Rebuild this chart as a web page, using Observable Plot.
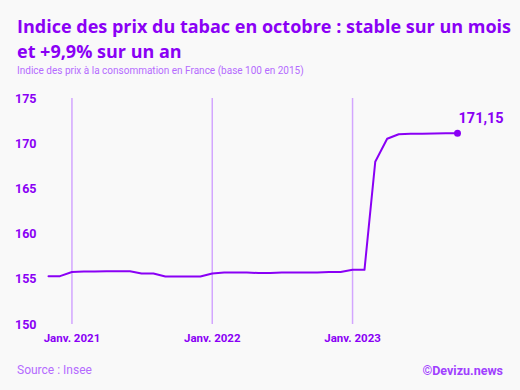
<!DOCTYPE html>
<html>
<head>
<meta charset="utf-8">
<script src="https://cdn.jsdelivr.net/npm/d3@7"></script>
<script src="https://cdn.jsdelivr.net/npm/@observablehq/plot@0.6"></script>
<style>
  html, body { margin: 0; padding: 0; }
  body { width: 520px; height: 390px; background: #f9f9f9; position: relative; overflow: hidden; font-family: Roboto, "Noto Sans", sans-serif; }
  #title { position: absolute; left: 17px; top: 14px; width: 510px; font-family: "Open Sans", Roboto, sans-serif; font-size: 18px; font-weight: bold; line-height: 25px; color: #8a00f5; white-space: nowrap; }
  #subtitle { position: absolute; left: 17px; top: 65px; font-size: 10px; color: #b56bff; }
  #chart { position: absolute; left: 0; top: 85px; }
  #source { position: absolute; left: 17px; top: 363px; font-size: 12px; color: #b56bff; }
  #credit { position: absolute; right: 17px; top: 363px; font-size: 12.5px; font-weight: bold; color: #a040ff; }
</style>
</head>
<body>
<div id="title">Indice des prix du tabac en octobre : stable sur un mois<br>et +9,9% sur un an</div>
<div id="subtitle">Indice des prix à la consommation en France (base 100 en 2015)</div>
<div id="chart"></div>
<div id="source">Source : Insee</div>
<div id="credit">©Devizu.news</div>
<script>
const months = [
  "2020-11","2020-12",
  "2021-01","2021-02","2021-03","2021-04","2021-05","2021-06","2021-07","2021-08","2021-09","2021-10","2021-11","2021-12",
  "2022-01","2022-02","2022-03","2022-04","2022-05","2022-06","2022-07","2022-08","2022-09","2022-10","2022-11","2022-12",
  "2023-01","2023-02","2023-03","2023-04","2023-05","2023-06","2023-07","2023-08","2023-09","2023-10"
];
const values = [
  155.35, 155.35,
  155.8, 155.85, 155.85, 155.9, 155.9, 155.9, 155.65, 155.65, 155.3, 155.3, 155.3, 155.3,
  155.65, 155.75, 155.75, 155.75, 155.7, 155.7, 155.75, 155.75, 155.75, 155.75, 155.8, 155.8,
  156.05, 156.05, 168.0, 170.55, 171.05, 171.1, 171.1, 171.12, 171.15, 171.15
];
const gridMonths = ["2021-01", "2022-01", "2023-01"];
const yTicks = [150, 155, 160, 165, 170, 175];

const color = "#8a00f5";
const gridColor = "#d3a6ff";

const parse = s => new Date(s + "-01T00:00:00Z");
const data = months.map((m, i) => ({date: parse(m), value: values[i]}));
const gridDates = gridMonths.map(parse);
const last = data[data.length - 1];

const chart = Plot.plot({
  width: 520,
  height: 270,
  marginTop: 13,
  marginBottom: 31,
  marginLeft: 48,
  marginRight: 63,
  style: {background: "transparent", fontFamily: "Roboto, sans-serif", color: color},
  x: {type: "utc", domain: [data[0].date, last.date]},
  y: {domain: [150, 175]},
  marks: [
    Plot.ruleX(gridDates, {x: d => d, y1: 150, y2: 175, stroke: gridColor, strokeWidth: 1.5}),
    Plot.axisY({ticks: yTicks, tickSize: 0, tickPadding: 12, fontWeight: "bold", fontSize: 12.5, fill: color, label: null}),
    Plot.axisX({ticks: gridDates, tickSize: 0, tickPadding: 9, fontWeight: "bold", fontSize: 11.5, fill: color, label: null,
      tickFormat: d => "Janv. " + d.getUTCFullYear()}),
    Plot.line(data, {x: "date", y: "value", stroke: color, strokeWidth: 2}),
    Plot.dot([last], {x: "date", y: "value", r: 3.5, fill: color}),
    Plot.text([last], {x: "date", y: "value", text: d => d.value.toFixed(2).replace(".", ","),
      dx: 1, dy: -15, textAnchor: "start", fontWeight: "bold", fontSize: 14.5, fill: color})
  ]
});
document.getElementById("chart").appendChild(chart);
</script>
</body>
</html>
